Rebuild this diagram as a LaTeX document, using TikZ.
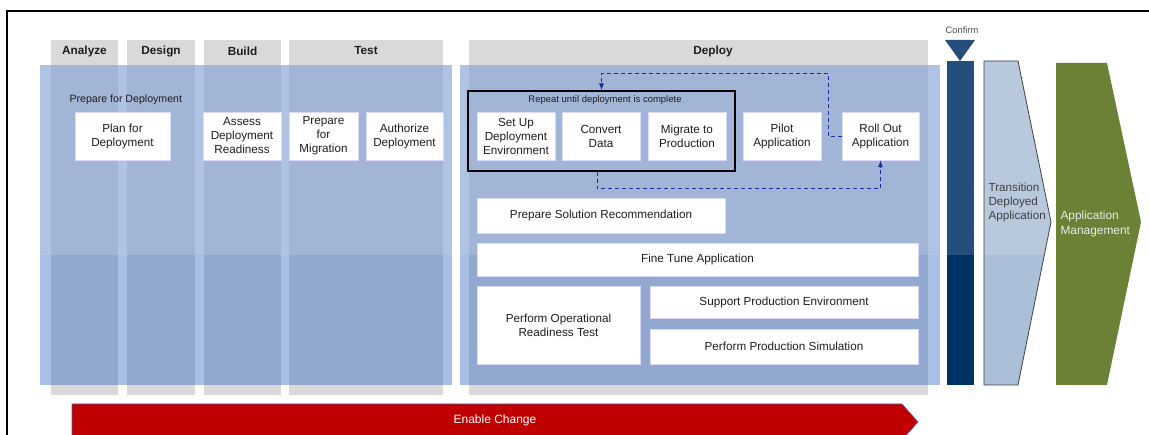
\documentclass[tikz,border=0pt]{standalone}
\usepackage{fontspec}
\setmainfont{Liberation Sans}
\usetikzlibrary{arrows.meta}

\definecolor{colgrey}{RGB}{217,217,217}
\definecolor{bluetop}{RGB}{130,161,215}
\definecolor{bluebot}{RGB}{40,95,192}
\definecolor{confirmtop}{RGB}{38,78,124}
\definecolor{confirmbot}{RGB}{0,50,100}
\definecolor{transtop}{RGB}{185,201,221}
\definecolor{transbot}{RGB}{171,192,216}
\definecolor{mgmtgreen}{RGB}{106,129,54}
\definecolor{changered}{RGB}{192,0,0}
\definecolor{loopnavy}{RGB}{30,40,160}
\definecolor{txt}{RGB}{30,30,30}

\tikzset{
  taskbox/.style={fill=white, draw=white!85!blue, line width=0.4, align=center,
    inner sep=1, text=txt, font=\fontsize{11.7}{14}\selectfont},
  phaselabel/.style={font=\fontsize{11.8}{13}\selectfont\bfseries, text=txt},
  looparrow/.style={draw=loopnavy, line width=0.9, dash pattern=on 4 off 3,
    -{Latex[length=7,width=5]}},
}

\begin{document}
\begin{tikzpicture}[x=1pt,y=-1pt]
\useasboundingbox (0,0) rectangle (1149,435);
\fill[white] (0,0) rectangle (1149,435);

% outer frame
\draw[line width=1.4, black] (7,435) -- (7,11) -- (1149,11);

% grey phase columns
\fill[colgrey] (51,40) rectangle (118,395);
\fill[colgrey] (127,40) rectangle (195,395);
\fill[colgrey] (204,40) rectangle (281,395);
\fill[colgrey] (289,40) rectangle (443,395);
\fill[colgrey] (469,40) rectangle (928,395);

\node[phaselabel] (hAnalyze) at (84.5,51) {Analyze};
\node[phaselabel] (hDesign) at (161,51) {Design};
\node[phaselabel] (hBuild) at (242.5,51) {Build};
\node[phaselabel] (hTest) at (366,51) {Test};
\node[phaselabel] (hDeploy) at (713,51) {Deploy};

% translucent blue work areas
\fill[bluetop, opacity=0.63] (40,65) rectangle (452,255);
\fill[bluebot, opacity=0.4] (40,255) rectangle (452,385);
\fill[bluetop, opacity=0.63] (460,65) rectangle (940,255);
\fill[bluebot, opacity=0.4] (460,255) rectangle (940,385);

% preparation tasks
\node[anchor=west, text=txt, font=\fontsize{10.6}{12}\selectfont] (prepLbl) at (66,100) {Prepare for Deployment};
\node[taskbox, minimum width=95, minimum height=48] (plan) at (122.5,136) {Plan for\\Deployment};
\node[taskbox, minimum width=78, minimum height=48] (assess) at (242,136) {Assess\\Deployment\\Readiness};
\node[taskbox, minimum width=69, minimum height=48] (prepmig) at (323.5,136) {Prepare\\for\\Migration};
\node[taskbox, minimum width=77, minimum height=48] (authorize) at (404.5,136) {Authorize\\Deployment};

% deployment loop
\node[draw=black, line width=1.2, minimum width=267, minimum height=80, inner sep=0] (repeat) at (601.5,131) {};
\node[text=txt, font=\fontsize{9.5}{11}\selectfont] (repeatLbl) at (605,100) {Repeat until deployment is complete};
\node[taskbox, minimum width=78, minimum height=48] (setup) at (516,136) {Set Up\\Deployment\\Environment};
\node[taskbox, minimum width=78, minimum height=48] (convert) at (601,136) {Convert\\Data};
\node[taskbox, minimum width=78, minimum height=48] (migrate) at (687,136) {Migrate to\\Production};
\node[taskbox, minimum width=78, minimum height=48] (pilot) at (782,136) {Pilot\\Application};
\node[taskbox, minimum width=77, minimum height=48] (rollout) at (880.5,136) {Roll Out\\Application};

\draw[looparrow] (rollout.west) -| (828,73) -| (repeat.north);
\draw[looparrow] ([xshift=-4.5]repeat.south) -- ++(0,17) -| (rollout.south);

% remaining deployment tasks
\node[taskbox, minimum width=248, minimum height=35] (prepsol) at (601,215.5) {Prepare Solution Recommendation};
\node[taskbox, minimum width=441, minimum height=33] (finetune) at (697.5,259.5) {Fine Tune Application};
\node[taskbox, minimum width=163, minimum height=78] (perfop) at (558.5,325) {Perform Operational\\Readiness Test};
\node[taskbox, minimum width=268, minimum height=32] (support) at (784,302) {Support Production Environment};
\node[taskbox, minimum width=268, minimum height=35] (perfsim) at (784,346.5) {Perform Production Simulation};

% confirm gate
\node[text=black!70, font=\fontsize{9.3}{10}\selectfont] (confirmLbl) at (962,30) {Confirm};
\fill[confirmtop] (945,40) -- (975,40) -- (960,61) -- cycle;
\fill[confirmtop] (947,61) rectangle (974,255);
\fill[confirmbot] (947,255) rectangle (974,385);

% transition chevron
\fill[transtop] (984,61) -- (1018,61) -- (1051,222) -- (1044.3,255) -- (984,255) -- cycle;
\fill[transbot] (984,255) -- (1044.3,255) -- (1018,385) -- (984,385) -- cycle;
\draw[black!75, line width=0.8] (984,61) -- (1018,61) -- (1051,222) -- (1018,385) -- (984,385) -- cycle;
\node[anchor=west, align=left, text=black!75, font=\fontsize{11.7}{14}\selectfont] (transLbl) at (985,202) {Transition\\Deployed\\Application};

% application management chevron
\fill[mgmtgreen] (1056,63) -- (1107,63) -- (1141,222) -- (1107,385) -- (1056,385) -- cycle;
\node[anchor=west, align=left, text=white!92!black, font=\fontsize{11.9}{15}\selectfont] (mgmtLbl) at (1057,223.5) {Application\\Management};

% enable change arrow
\draw[fill=changered, draw=blue!30!gray, line width=0.6] (72,404) -- (902,404) -- (918,422) -- (902,440) -- (72,440) -- cycle;
\node[text=white, font=\fontsize{12}{14}\selectfont] (changeLbl) at (495,420) {Enable Change};

\end{tikzpicture}
\end{document}
